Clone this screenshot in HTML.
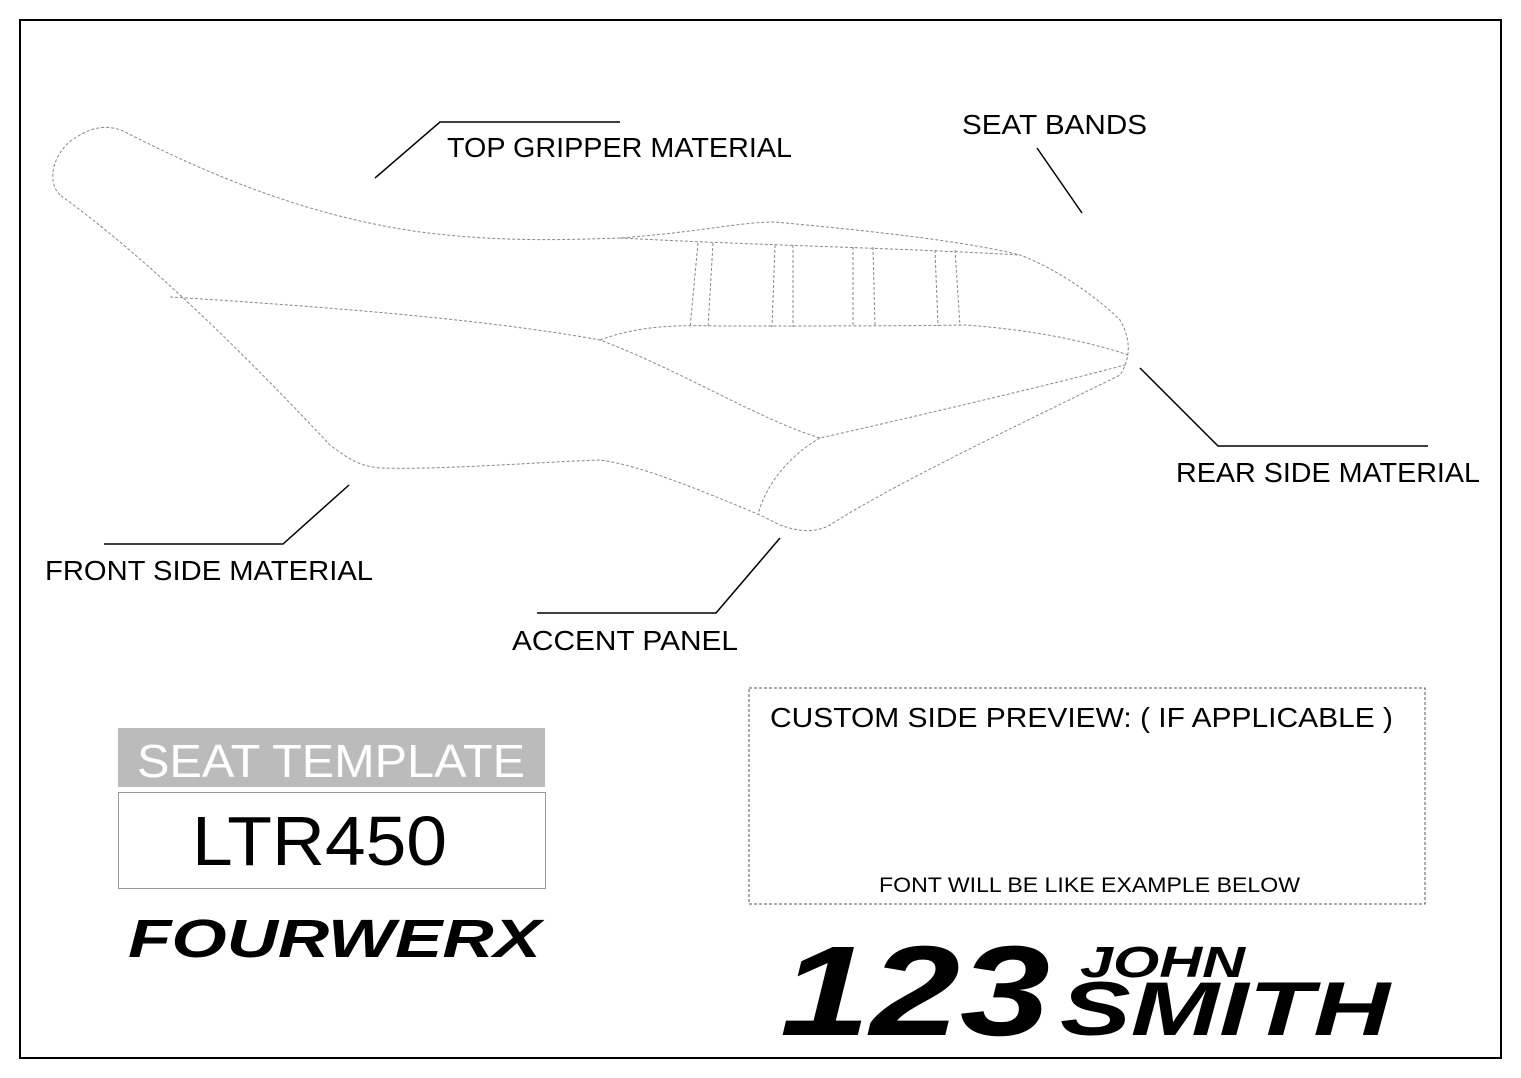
<!DOCTYPE html>
<html><head><meta charset="utf-8"><style>html,body{margin:0;padding:0;background:#fff}svg{display:block}</style></head><body>
<svg width="1521" height="1078" viewBox="0 0 1521 1078" xmlns="http://www.w3.org/2000/svg">
<rect x="20" y="20" width="1481" height="1038" fill="#fff" stroke="#000" stroke-width="2"/>
<g fill="none" stroke="#888" stroke-width="1" stroke-dasharray="3,2">
<path d="M60,195 C45,180 55,150 75,138 C95,125 110,125 125,132 C200,170 300,215 420,232 C500,242 560,240 620,238 C700,232 740,222 775,222 C860,230 960,240 1020,255 C1060,270 1100,300 1120,320 C1132,340 1130,360 1120,375 C1050,410 900,480 830,525 C815,533 800,532 780,525 L760,515 C700,490 640,465 600,460 C540,462 440,470 380,468 C360,466 350,460 330,445 C250,360 150,260 60,195 Z"/>
<path d="M170,297 C300,305 480,318 600,340 C680,370 760,420 820,438 C900,420 1050,385 1125,365"/>
<path d="M600,340 C640,325 680,325 720,326 C820,326 900,326 965,325 C1040,330 1100,345 1128,355"/>
<path d="M620,238 C750,245 900,248 1020,255"/>
<path d="M820,438 C790,455 765,485 758,515"/>
<path d="M698,243 L690,328 M713,243 L708,328 M775,245 L772,327 M793,245 L793,327 M853,247 L853,326 M873,247 L875,326 M935,250 L938,326 M955,250 L960,326"/>
</g>
<g stroke="#000" stroke-width="1.5" fill="none">
<path d="M375,178 L440,122 L620,122"/>
<path d="M1037,148 L1082,213"/>
<path d="M1140,368 L1218,446 L1428,446"/>
<path d="M349,485 L283,544 L104,544"/>
<path d="M780,538 L716,613 L537,613"/>
</g>
<g font-family="Liberation Sans, sans-serif" font-size="28" fill="#000">
<text x="447" y="157" textLength="345" lengthAdjust="spacingAndGlyphs">TOP  GRIPPER  MATERIAL</text>
<text x="962" y="134" textLength="185" lengthAdjust="spacingAndGlyphs">SEAT  BANDS</text>
<text x="1176" y="482" textLength="304" lengthAdjust="spacingAndGlyphs">REAR  SIDE  MATERIAL</text>
<text x="45" y="580" textLength="328" lengthAdjust="spacingAndGlyphs">FRONT  SIDE  MATERIAL</text>
<text x="512" y="650" textLength="226" lengthAdjust="spacingAndGlyphs">ACCENT  PANEL</text>
<text x="770" y="727" textLength="623" lengthAdjust="spacingAndGlyphs">CUSTOM  SIDE  PREVIEW:  (  IF  APPLICABLE  )</text>
<text x="879" y="892" font-size="21" textLength="421" lengthAdjust="spacingAndGlyphs">FONT  WILL  BE  LIKE  EXAMPLE  BELOW</text>
</g>
<rect x="749" y="688" width="676" height="216" fill="none" stroke="#555" stroke-width="1" stroke-dasharray="3,2"/>
<rect x="118" y="728" width="427" height="59" fill="#bbb"/>
<text x="137" y="777" font-family="Liberation Sans, sans-serif" font-size="46" fill="#fff" textLength="388" lengthAdjust="spacingAndGlyphs">SEAT  TEMPLATE</text>
<rect x="118.5" y="792.5" width="427" height="96" fill="#fff" stroke="#999" stroke-width="1"/>
<text x="192" y="865" font-family="Liberation Sans, sans-serif" font-size="70" fill="#000" textLength="255" lengthAdjust="spacingAndGlyphs">LTR450</text>
<g font-family="Liberation Sans, sans-serif" font-weight="900" font-style="italic" fill="#000">
<text x="128" y="957" font-size="54" textLength="413" lengthAdjust="spacingAndGlyphs">FOURWERX</text>
<text x="780" y="1035" font-size="128" textLength="270" lengthAdjust="spacingAndGlyphs">123</text>
<text x="1080" y="977" font-size="44" textLength="165" lengthAdjust="spacingAndGlyphs">JOHN</text>
<text x="1060" y="1035" font-size="76" textLength="330" lengthAdjust="spacingAndGlyphs">SMITH</text>
</g>
</svg>
</body></html>
